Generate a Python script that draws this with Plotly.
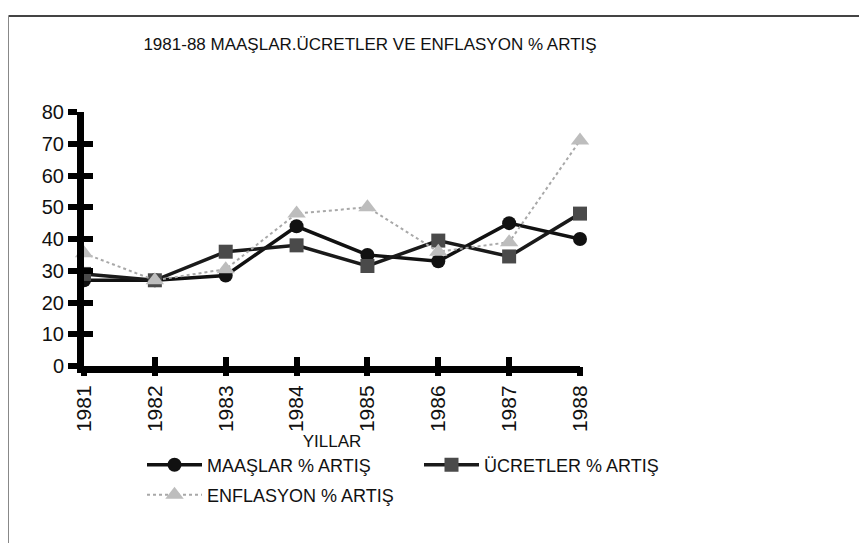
import plotly.graph_objects as go

years = [1981, 1982, 1983, 1984, 1985, 1986, 1987, 1988]
maaslar = [27, 27, 28.5, 44, 35, 33, 45, 40]
ucretler = [29, 27, 36, 38, 31.5, 39.5, 34.5, 48]
enflasyon = [35.5, 27, 30.5, 48, 50, 36, 39, 71]
y_ticks = [0, 10, 20, 30, 40, 50, 60, 70, 80]

# the page body has an 8px margin, so the figure is sized to fit inside the window
W, H = 852, 535
OFF = 8  # page offset of the figure
L, R, T, B = 76, 280, 104, 177
FONT = "Liberation Sans, Arial, sans-serif"

pw = W - L - R
ph = H - T - B


def fx(page_x):
    """page pixel x -> paper coordinate"""
    return (page_x - OFF - L) / pw


def fy(page_y):
    """page pixel y -> paper coordinate"""
    return (H - B - (page_y - OFF)) / ph


fig = go.Figure()
fig.add_trace(go.Scatter(
    x=years, y=maaslar, name="MAAŞLAR % ARTIŞ", mode="lines+markers",
    line=dict(color="#111111", width=3.5),
    marker=dict(symbol="circle", size=14, color="#111111"),
    cliponaxis=False, legend="legend"))
fig.add_trace(go.Scatter(
    x=years, y=ucretler, name="ÜCRETLER % ARTIŞ", mode="lines+markers",
    line=dict(color="#1a1a1a", width=3.5),
    marker=dict(symbol="square", size=14, color="#4a4a4a"),
    cliponaxis=False, legend="legend2"))
fig.add_trace(go.Scatter(
    x=years, y=enflasyon, name="ENFLASYON % ARTIŞ", mode="lines+markers",
    line=dict(color="#a8a8a8", width=2, dash="dot"),
    marker=dict(symbol="triangle-up", size=16, color="#bdbdbd"),
    cliponaxis=False, legend="legend3"))

# invisible trace to attach the overlay tick axes (ticks crossing the axis lines)
fig.add_trace(go.Scatter(x=[years[0]], y=[0], xaxis="x2", yaxis="y2",
                         mode="markers", marker=dict(opacity=0),
                         showlegend=False, hoverinfo="skip"))

legend_common = dict(orientation="h", xref="paper", xanchor="left",
                     yref="paper", yanchor="middle", itemwidth=55,
                     font=dict(family=FONT, size=18, color="#111111"),
                     bgcolor="rgba(0,0,0,0)")

fig.update_layout(
    width=W, height=H,
    margin=dict(l=L, r=R, t=T, b=B, autoexpand=False),
    paper_bgcolor="white", plot_bgcolor="white",
    font=dict(family=FONT, size=17, color="#111111"),
    title=dict(text="1981-88 MAAŞLAR.ÜCRETLER VE ENFLASYON % ARTIŞ",
               x=(370 - OFF) / W, xref="container", xanchor="center",
               y=1 - (44 - OFF) / H, yref="container", yanchor="middle",
               font=dict(family=FONT, size=17, color="#111111")),
    xaxis=dict(range=[years[0], years[-1]], tickmode="array", tickvals=years,
               ticktext=[str(v) for v in years], tickangle=-90,
               showline=True, linecolor="#000000", linewidth=7,
               ticks="inside", ticklen=9, tickwidth=6, tickcolor="#000000",
               ticklabelstandoff=4,
               showgrid=False, zeroline=False, automargin=False,
               title=dict(text="YILLAR", standoff=0, font=dict(size=17)),
               tickfont=dict(size=21)),
    xaxis2=dict(range=[years[0], years[-1]], overlaying="x", anchor="y", side="bottom",
                tickmode="array", tickvals=years, showticklabels=False,
                ticks="outside", ticklen=9, tickwidth=6, tickcolor="#000000",
                showline=False, showgrid=False, zeroline=False),
    yaxis=dict(range=[0, 80], tickmode="array", tickvals=y_ticks,
               showline=True, linecolor="#000000", linewidth=7,
               ticks="outside", ticklen=9, tickwidth=6, tickcolor="#000000",
               showgrid=False, zeroline=False, automargin=False,
               tickfont=dict(size=20)),
    yaxis2=dict(range=[0, 80], overlaying="y", anchor="x", side="left",
                tickmode="array", tickvals=y_ticks, showticklabels=False,
                ticks="inside", ticklen=9, tickwidth=6, tickcolor="#000000",
                showline=False, showgrid=False, zeroline=False),
    legend=dict(legend_common, x=fx(142), y=fy(465)),
    legend2=dict(legend_common, x=fx(419), y=fy(465)),
    legend3=dict(legend_common, x=fx(142), y=fy(495)),
    showlegend=True,
)

# outer frame of the chart (top and left edges visible in the reference)
fig.add_shape(type="line", xref="paper", yref="paper", layer="above",
              x0=fx(OFF + 0.5), x1=fx(OFF + W - 1), y0=fy(OFF + 8), y1=fy(OFF + 8),
              line=dict(color="#444444", width=2))
fig.add_shape(type="line", xref="paper", yref="paper", layer="above",
              x0=fx(OFF + 0.5), x1=fx(OFF + 0.5), y0=fy(OFF + 8), y1=fy(OFF + H),
              line=dict(color="#888888", width=1))

fig.write_html("out.html")
